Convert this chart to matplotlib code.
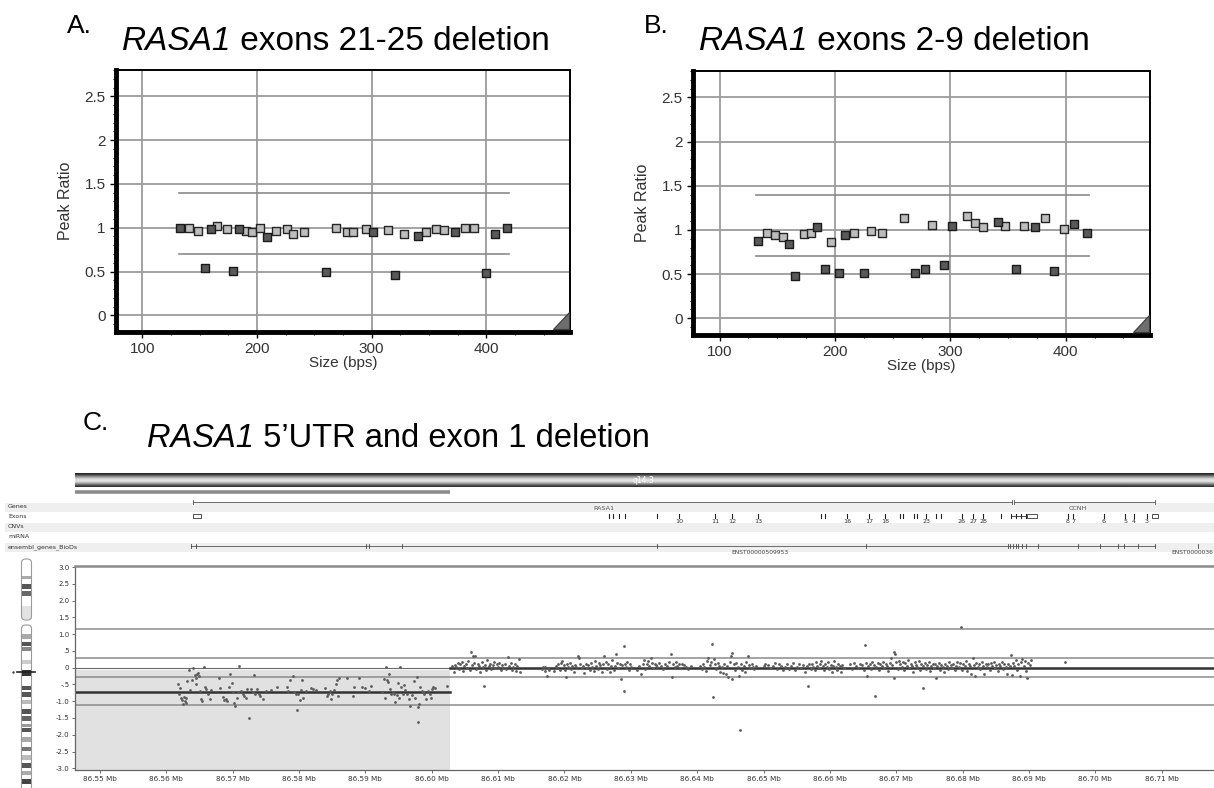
#!/usr/bin/env python3
"""RASA1 deletions: MLPA peak ratios (A, B) and array CGH log2 ratios (C)."""

import numpy as np
import matplotlib
matplotlib.use('Agg')
import matplotlib.pyplot as plt
from matplotlib.patches import Polygon, Rectangle, FancyBboxPatch
from matplotlib.ticker import MultipleLocator, FuncFormatter

W, H = 1214, 788
plt.rcParams['font.family'] = ['Liberation Sans', 'DejaVu Sans']

# ---------------------------------------------------------------------------
# Panel A: exons 21-25 deletion (probe size in bps, peak ratio)
a_light_size = [140.8, 148.3, 165.5, 174, 190.8, 196, 203, 216.4, 225.8, 231.6,
                240.9, 268.9, 278.2, 284, 295, 314, 328.2, 347.4, 356.2, 363.5,
                381.5, 389.7]
a_light_ratio = [1.0, 0.96, 1.02, 0.98, 0.96, 0.95, 1.0, 0.96, 0.98, 0.93,
                 0.95, 1.0, 0.95, 0.95, 0.98, 0.97, 0.93, 0.95, 0.98, 0.97,
                 1.0, 1.0]
a_dark_size = [133.2, 160, 184.4, 208.9, 300.9, 340.7, 372.8, 408, 418,
               154.7, 179.2, 259.8, 320.7, 399.4]
a_dark_ratio = [1.0, 0.98, 0.98, 0.89, 0.95, 0.91, 0.95, 0.93, 1.0,
                0.54, 0.51, 0.49, 0.46, 0.48]

# Panel B: exons 2-9 deletion
b_light_size = [141, 148, 155, 173.3, 179.4, 196.2, 216.6, 231.4, 241, 260.2,
                284.3, 314.2, 321, 328.2, 347.7, 364, 382.3, 398.6]
b_light_ratio = [0.97, 0.94, 0.92, 0.95, 0.96, 0.86, 0.96, 0.99, 0.96, 1.14,
                 1.06, 1.16, 1.08, 1.03, 1.05, 1.05, 1.13, 1.01]
b_dark_size = [133.4, 160.5, 165.1, 184.6, 191, 203.2, 209, 225.6, 269.2, 277.9,
               294.8, 301.5, 341.3, 356.7, 373.3, 390.1, 407.4, 418]
b_dark_ratio = [0.875, 0.84, 0.475, 1.03, 0.555, 0.51, 0.943, 0.51, 0.51, 0.555,
                0.604, 1.05, 1.094, 0.555, 1.03, 0.54, 1.064, 0.96]

peak_upper, peak_lower = 1.4, 0.7
probe_span = (132, 420)

# ---------------------------------------------------------------------------
# Panel C: array CGH log ratios, position in Mb
del_points = [
    (86.56175, -0.50), (86.56185, -0.77), (86.5620, -0.62), (86.56225, -0.89),
    (86.5624, -0.97), (86.5625, -1.09), (86.56265, -0.87), (86.5628, -0.99),
    (86.5629, -0.89), (86.5630, -1.04), (86.56315, -0.40), (86.56335, -0.08),
    (86.5636, -0.67), (86.5638, -0.38), (86.5640, 0.00), (86.56425, -0.22),
    (86.5644, -0.50), (86.5645, -0.32), (86.56465, -0.18), (86.5648, -0.15),
    (86.56485, -0.25), (86.5650, -0.69), (86.56515, -0.94), (86.56535, -0.99),
    (86.56565, 0.03), (86.56575, -0.59), (86.5660, -0.64), (86.56635, -0.79),
    (86.5666, -0.92), (86.5668, -0.67), (86.5680, -0.30), (86.5681, -0.62),
    (86.5685, -0.87), (86.56875, -0.97), (86.5690, -0.94), (86.56915, -0.99),
    (86.5694, -0.59), (86.5696, -0.18), (86.56985, -0.45), (86.5700, -0.73),
    (86.57025, -1.04), (86.5704, -1.14), (86.5706, -0.89), (86.5708, -0.74),
    (86.5710, 0.05), (86.57125, -0.69), (86.5715, -0.79), (86.57175, -0.84),
    (86.5720, -0.91), (86.5722, -0.64), (86.5725, -1.49), (86.57275, -0.64),
    (86.5730, -0.72), (86.57315, -0.22), (86.5734, -0.79), (86.57365, -0.64),
    (86.5739, -0.77), (86.5741, -0.84), (86.5745, -0.92), (86.5750, -0.69),
    (86.57575, -0.67), (86.57675, -0.59), (86.57825, -0.59), (86.57835, -0.69),
    (86.5786, -0.37), (86.5791, -0.25), (86.5793, -0.74), (86.5795, -0.79),
    (86.57975, -1.26), (86.5799, -0.77), (86.58015, -0.96), (86.5803, -0.67),
    (86.5805, -0.36), (86.58065, -0.89), (86.5810, -0.69), (86.58175, -0.61),
    (86.5821, -0.64), (86.5825, -0.66), (86.5839, -0.62), (86.58415, -0.84),
    (86.5844, -0.77), (86.5846, -0.69), (86.58475, -0.94), (86.5850, -0.79),
    (86.58525, -0.67), (86.5856, -0.48), (86.58575, -0.37), (86.5859, -0.84),
    (86.5860, -0.32), (86.58725, -0.32), (86.58815, -0.84), (86.58825, -0.57),
    (86.5890, -0.30), (86.5895, -0.59), (86.5900, -0.61), (86.5905, -0.69),
    (86.5909, -0.55), (86.5925, -0.74), (86.59275, -0.35), (86.5929, -0.89),
    (86.5931, 0.03), (86.5932, -0.38), (86.5934, -0.42), (86.5936, -0.20),
    (86.59375, -0.64), (86.5939, -0.77), (86.59415, -0.74), (86.5943, -0.79),
    (86.5945, -1.01), (86.5947, -0.82), (86.5949, -0.45), (86.5951, -0.89),
    (86.59525, 0.03), (86.5954, -0.59), (86.5956, -0.79), (86.59575, -0.52),
    (86.5960, -0.67), (86.59625, -0.79), (86.5965, -0.92), (86.59675, -1.14),
    (86.5970, -0.82), (86.59725, -0.40), (86.5975, -0.89), (86.59775, -0.28),
    (86.5979, -1.17), (86.5980, -1.63), (86.5981, -1.09), (86.5983, -0.59),
    (86.5985, -0.71), (86.5987, -0.74), (86.5989, -0.79), (86.59915, -0.94),
    (86.5994, -0.71), (86.59975, -0.79), (86.5999, -0.91), (86.6001, -0.64),
    (86.60025, -0.59), (86.6005, -0.61), (86.60225, -0.54),
]
norm_points = [
    (86.6031, 0.05), (86.6033, -0.12), (86.6035, 0.08), (86.6037, 0.02),
    (86.6039, 0.15), (86.6041, -0.05), (86.6043, 0.10), (86.6045, 0.18),
    (86.6047, -0.10), (86.6049, 0.04), (86.6051, 0.12), (86.6053, 0.00),
    (86.6055, 0.20), (86.6057, -0.06), (86.6059, 0.48), (86.6060, 0.08),
    (86.6062, 0.35), (86.6063, 0.14), (86.6065, 0.35), (86.6067, -0.03),
    (86.6069, 0.10), (86.6071, 0.05), (86.6073, -0.12), (86.6075, 0.16),
    (86.6077, 0.02), (86.6078, -0.55), (86.6080, 0.09), (86.6082, -0.08),
    (86.6084, 0.22), (86.6086, 0.04), (86.6088, 0.12), (86.6090, -0.04),
    (86.6092, 0.07), (86.6094, 0.18), (86.6096, -0.02), (86.6098, 0.10),
    (86.6100, 0.03), (86.6102, 0.14), (86.6104, -0.06), (86.6106, 0.08),
    (86.6108, 0.00), (86.6110, 0.12), (86.6112, -0.03), (86.6115, 0.33),
    (86.6117, 0.06), (86.6119, 0.15), (86.6121, -0.07), (86.6123, 0.02),
    (86.6125, 0.10), (86.6127, -0.10), (86.6129, 0.05), (86.6131, 0.25),
    (86.6133, -0.12), (86.6166, -0.05), (86.6168, 0.02), (86.6170, -0.10),
    (86.6171, 0.03), (86.6173, -0.24), (86.6175, 0.00), (86.6177, -0.08),
    (86.6185, -0.10), (86.6187, 0.05), (86.6189, -0.02), (86.6191, 0.12),
    (86.6193, -0.06), (86.6195, 0.15), (86.6197, 0.20), (86.6199, 0.08),
    (86.6201, -0.08), (86.6202, -0.27), (86.6204, 0.10), (86.6206, 0.02),
    (86.6208, 0.14), (86.6210, -0.04), (86.6212, 0.06), (86.6214, -0.12),
    (86.6216, 0.09), (86.6218, 0.03), (86.6220, 0.35), (86.6222, 0.30),
    (86.6224, 0.12), (86.6226, -0.02), (86.6228, 0.05), (86.6230, -0.16),
    (86.6232, 0.10), (86.6234, 0.00), (86.6236, 0.08), (86.6238, -0.06),
    (86.6240, 0.13), (86.6242, 0.02), (86.6244, -0.10), (86.6246, 0.20),
    (86.6248, 0.05), (86.6250, -0.03), (86.6252, 0.14), (86.6254, 0.07),
    (86.6256, -0.12), (86.6258, 0.10), (86.6260, 0.36), (86.6262, 0.18),
    (86.6264, -0.05), (86.6266, 0.12), (86.6268, -0.14), (86.6270, 0.04),
    (86.6272, 0.22), (86.6274, -0.08), (86.6276, 0.06), (86.6277, 0.42),
    (86.6279, 0.15), (86.6281, -0.02), (86.6283, 0.10), (86.6285, -0.34),
    (86.6287, 0.08), (86.6289, 0.66), (86.6290, -0.69), (86.6291, 0.12),
    (86.6293, 0.02), (86.6295, 0.16), (86.6297, -0.06), (86.6299, 0.10),
    (86.6301, 0.03), (86.6310, -0.08), (86.6313, 0.05), (86.6316, -0.18),
    (86.6318, 0.10), (86.6320, 0.22), (86.6322, -0.04), (86.6324, 0.12),
    (86.6326, 0.20), (86.6328, 0.06), (86.6330, 0.30), (86.6332, 0.15),
    (86.6334, -0.02), (86.6336, 0.12), (86.6338, 0.08), (86.6340, 0.02),
    (86.6343, 0.14), (86.6346, 0.06), (86.6349, -0.05), (86.6352, 0.10),
    (86.6355, 0.04), (86.6358, 0.18), (86.6361, 0.41), (86.6362, -0.27),
    (86.6364, 0.10), (86.6366, 0.02), (86.6368, 0.16), (86.6370, 0.06),
    (86.6372, 0.12), (86.6374, -0.02), (86.6377, 0.10), (86.6380, 0.08),
    (86.6383, 0.02), (86.6386, -0.04), (86.6390, 0.05), (86.6405, 0.06),
    (86.6407, -0.04), (86.6409, 0.12), (86.6411, 0.02), (86.6413, -0.10),
    (86.6415, 0.20), (86.6417, 0.30), (86.6419, 0.08), (86.6421, 0.16),
    (86.6423, 0.70), (86.6424, -0.86), (86.6425, 0.25), (86.6427, 0.10),
    (86.6429, -0.04), (86.6431, 0.14), (86.6433, 0.05), (86.6435, -0.12),
    (86.6437, 0.02), (86.6439, -0.16), (86.6441, 0.10), (86.6443, -0.20),
    (86.6445, 0.06), (86.6447, -0.28), (86.6449, 0.18), (86.6451, 0.36),
    (86.6452, 0.43), (86.6453, -0.34), (86.6455, 0.10), (86.6457, -0.08),
    (86.6459, 0.14), (86.6461, 0.02), (86.6463, -0.24), (86.6464, -1.85),
    (86.6466, 0.12), (86.6468, -0.06), (86.6470, 0.04), (86.6472, -0.14),
    (86.6474, 0.16), (86.6476, 0.35), (86.6478, 0.08), (86.6480, -0.02),
    (86.6482, 0.12), (86.6484, 0.02), (86.6486, -0.05), (86.6488, 0.04),
    (86.6500, 0.05), (86.6503, 0.12), (86.6507, 0.08), (86.6510, -0.02),
    (86.6514, 0.06), (86.6518, 0.15), (86.6521, -0.04), (86.6524, 0.10),
    (86.6527, 0.04), (86.6530, -0.08), (86.6533, 0.02), (86.6536, 0.12),
    (86.6539, -0.03), (86.6542, 0.06), (86.6545, 0.14), (86.6548, -0.06),
    (86.6551, 0.02), (86.6554, 0.10), (86.6557, -0.02), (86.6560, 0.08),
    (86.6563, -0.12), (86.6565, 0.04), (86.6567, -0.55), (86.6569, 0.10),
    (86.6571, -0.04), (86.6573, 0.12), (86.6575, 0.02), (86.6577, -0.08),
    (86.6579, 0.16), (86.6581, 0.06), (86.6583, -0.02), (86.6585, 0.10),
    (86.6587, 0.20), (86.6589, 0.04), (86.6591, -0.06), (86.6593, 0.12),
    (86.6595, 0.02), (86.6597, 0.16), (86.6599, -0.04), (86.6601, 0.08),
    (86.6603, -0.12), (86.6605, 0.06), (86.6607, 0.20), (86.6609, 0.02),
    (86.6611, -0.08), (86.6613, 0.12), (86.6615, 0.04), (86.6617, -0.14),
    (86.6619, 0.08), (86.6621, 0.00), (86.6630, 0.10), (86.6633, -0.04),
    (86.6636, 0.14), (86.6639, 0.06), (86.6642, -0.02), (86.6645, 0.12),
    (86.6648, 0.08), (86.6651, -0.06), (86.6653, 0.68), (86.6655, 0.14),
    (86.6656, -0.25), (86.6658, 0.04), (86.6660, 0.12), (86.6662, -0.03),
    (86.6664, 0.16), (86.6666, 0.08), (86.6668, -0.85), (86.6670, 0.02),
    (86.6672, 0.14), (86.6674, -0.06), (86.6676, 0.10), (86.6678, 0.04),
    (86.6680, 0.18), (86.6682, -0.02), (86.6684, 0.12), (86.6686, 0.06),
    (86.6688, -0.10), (86.6690, 0.14), (86.6692, 0.30), (86.6694, 0.08),
    (86.6696, 0.48), (86.6697, -0.30), (86.6698, 0.42), (86.6700, 0.16),
    (86.6702, -0.04), (86.6704, 0.20), (86.6706, 0.10), (86.6708, 0.02),
    (86.6710, 0.18), (86.6712, -0.08), (86.6714, 0.14), (86.6716, 0.06),
    (86.6718, 0.22), (86.6720, -0.02), (86.6722, 0.12), (86.6724, 0.04),
    (86.6726, -0.14), (86.6728, 0.16), (86.6730, 0.08), (86.6732, 0.02),
    (86.6734, 0.20), (86.6736, -0.06), (86.6738, 0.10), (86.6740, 0.04),
    (86.6741, -0.62), (86.6743, 0.14), (86.6745, -0.04), (86.6747, 0.08),
    (86.6749, 0.16), (86.6751, -0.10), (86.6753, 0.06), (86.6755, 0.12),
    (86.6757, -0.02), (86.6759, 0.10), (86.6760, -0.32), (86.6762, 0.04),
    (86.6764, 0.14), (86.6766, -0.06), (86.6768, 0.08), (86.6770, 0.02),
    (86.6772, -0.12), (86.6774, 0.10), (86.6776, 0.04), (86.6778, -0.04),
    (86.6780, 0.16), (86.6782, 0.08), (86.6784, 0.00), (86.6786, 0.12),
    (86.6788, -0.08), (86.6790, 0.06), (86.6792, 0.18), (86.6794, 0.02),
    (86.6796, 0.14), (86.6797, 1.20), (86.6799, -0.06), (86.6801, 0.10),
    (86.6803, 0.04), (86.6805, 0.20), (86.6807, -0.10), (86.6809, 0.12),
    (86.6811, 0.06), (86.6813, -0.20), (86.6815, 0.28), (86.6817, 0.08),
    (86.6819, -0.25), (86.6821, 0.14), (86.6823, 0.02), (86.6825, 0.10),
    (86.6827, -0.04), (86.6829, 0.16), (86.6831, 0.06), (86.6833, -0.18),
    (86.6835, 0.12), (86.6837, 0.02), (86.6839, 0.10), (86.6841, -0.06),
    (86.6843, 0.14), (86.6845, 0.04), (86.6847, 0.18), (86.6849, -0.02),
    (86.6851, 0.08), (86.6853, -0.10), (86.6855, 0.12), (86.6857, 0.04),
    (86.6859, 0.16), (86.6861, -0.04), (86.6863, 0.10), (86.6865, 0.02),
    (86.6867, -0.18), (86.6869, 0.12), (86.6871, 0.06), (86.6873, 0.38),
    (86.6874, -0.22), (86.6876, 0.14), (86.6878, 0.04), (86.6880, 0.24),
    (86.6882, -0.06), (86.6884, 0.10), (86.6886, -0.24), (86.6888, 0.16),
    (86.6890, 0.26), (86.6892, 0.06), (86.6894, 0.20), (86.6896, -0.10),
    (86.6897, -0.30), (86.6899, 0.14), (86.6901, 0.08), (86.6903, 0.22),
    (86.6954, 0.18),
]
breakpoint_mb = 86.6028
del_mean = -0.73
c_thresholds = [1.15, 0.30, -0.28, -1.10]
c_xticks = [86.55, 86.56, 86.57, 86.58, 86.59, 86.60, 86.61, 86.62, 86.63,
            86.64, 86.65, 86.66, 86.67, 86.68, 86.69, 86.70, 86.71]
c_yticks = [3.0, 2.5, 2.0, 1.5, 1.0, 0.5, 0, -0.5, -1.0, -1.5, -2.0, -2.5, -3.0]
c_ytick_labels = ['3.0', '2.5', '2.0', '1.5', '1.0', '.5', '0', '-.5', '-1.0',
                  '-1.5', '-2.0', '-2.5', '-3.0']

# gene annotation tracks (Mb)
rasa1_span = (86.5640, 86.6875)
ccnh_span = (86.6878, 86.7090)
exon_ticks = [86.6267, 86.6273, 86.6282, 86.6291, 86.6340, 86.6373, 86.6427,
              86.6453, 86.6492, 86.6587, 86.6593, 86.6626, 86.6659, 86.6683,
              86.6706, 86.6710, 86.6727, 86.6731, 86.6745, 86.6760, 86.6768,
              86.6799, 86.6816, 86.6831, 86.6858, 86.6873, 86.6881, 86.6888,
              86.6896, 86.6959, 86.6967, 86.7013, 86.7045, 86.7058, 86.7078]
exon_label_mb = [86.6373, 86.6427, 86.6453, 86.6492, 86.6626, 86.6659, 86.6683,
                 86.6745, 86.6799, 86.6816, 86.6831, 86.6959, 86.6967, 86.7013,
                 86.7045, 86.7058, 86.7078]
exon_labels = ['10', '11', '12', '13', '16', '17', '18', '23', '26', '27', '28',
               '8', '7', '6', '5', '4', '3']
utr_boxes = [(86.5640, 86.5652), (86.6897, 86.6912), (86.7086, 86.7095)]
ensembl_span = (86.5637, 86.7090)
ensembl_ticks = [86.5637, 86.5645, 86.5901, 86.5905, 86.5955, 86.6340, 86.6655,
                 86.6869, 86.6872, 86.6876, 86.6880, 86.6884, 86.6890, 86.6896,
                 86.6914, 86.6974, 86.7007, 86.7034, 86.7043, 86.7064, 86.7090,
                 86.7155]
track_names = ['Genes', 'Exons', 'CNVs', 'miRNA', 'ensembl_genes_BioDs']

# pixel <-> Mb mapping of the genome browser panel
MB0_PX, PX_PER_MB = 100, 6635.0


def mb_at(x):
    return 86.55 + (x - MB0_PX) / PX_PER_MB


def px_axes(fig, l, t, r, b):
    return fig.add_axes([l / W, 1 - b / H, (r - l) / W, (b - t) / H])


fig = plt.figure(figsize=(W / 100, H / 100), dpi=100)
renderer = fig.canvas.get_renderer()


def title_row(letter, lx, ly, tx, ty, rest, size=24):
    fig.text(lx / W, 1 - ly / H, letter, fontsize=19, va='baseline')
    t = fig.text(tx / W, 1 - ty / H, 'RASA1', fontsize=size, style='italic',
                 va='baseline')
    bb = t.get_window_extent(renderer=renderer)
    fig.text(bb.x1 / W, 1 - ty / H, rest, fontsize=size, va='baseline')


def peak_panel(ax, light_x, light_y, dark_x, dark_y):
    ax.set_xlim(77, 473)
    ax.set_ylim(-0.19, 2.8)
    ax.xaxis.set_major_locator(MultipleLocator(100))
    ax.xaxis.set_minor_locator(MultipleLocator(25))
    ax.yaxis.set_major_locator(MultipleLocator(0.5))
    ax.yaxis.set_minor_locator(MultipleLocator(0.1))
    ax.yaxis.set_major_formatter(FuncFormatter(lambda v, p: f'{v:g}'))
    ax.grid(True, which='major', color='#9c9c9c', lw=1.3)
    ax.set_axisbelow(True)
    for lvl in (peak_upper, peak_lower):
        ax.plot(probe_span, [lvl, lvl], color='#8a8a8a', lw=1.2, zorder=2)
    ax.scatter(light_x, light_y, marker='s', s=26, facecolor='#bdbdbd',
               edgecolor='#262626', lw=1.0, zorder=3)
    ax.scatter(dark_x, dark_y, marker='s', s=26, facecolor='#595959',
               edgecolor='#1a1a1a', lw=1.0, zorder=3)
    for side in ('left', 'bottom'):
        ax.spines[side].set_linewidth(3.5)
    for side in ('top', 'right'):
        ax.spines[side].set_linewidth(1.4)
    ax.tick_params(which='major', direction='out', length=4, width=1,
                   labelsize=11, labelcolor='#333333')
    ax.tick_params(which='minor', direction='out', length=2.5, width=0.8)
    ax.set_ylabel('Peak Ratio', fontsize=11.5, color='#333333', labelpad=8)
    ax.set_xlabel('Size (bps)', fontsize=11, color='#333333', labelpad=0)
    tri = Polygon([(0.962, 0.01), (0.997, 0.01), (0.997, 0.075)], closed=True,
                  transform=ax.transAxes, facecolor='#6e6e6e',
                  edgecolor='#3a3a3a', lw=0.8, zorder=5)
    ax.add_patch(tri)


# ---------------------------------------------------------------------------
# A and B
title_row('A.', 67, 33, 122, 50, ' exons 21-25 deletion')
axa = px_axes(fig, 116, 70, 570, 332)
peak_panel(axa, a_light_size, a_light_ratio, a_dark_size, a_dark_ratio)

title_row('B.', 644, 33, 699, 50, ' exons 2-9 deletion')
axb = px_axes(fig, 693, 71, 1150, 335)
peak_panel(axb, b_light_size, b_light_ratio, b_dark_size, b_dark_ratio)

# ---------------------------------------------------------------------------
# C: genome browser view
title_row('C.', 83, 430, 147, 447, ' 5\u2019UTR and exon 1 deletion', size=23.5)

trk = px_axes(fig, 0, 466, W, 558)
trk.set_xlim(mb_at(0), mb_at(W))
trk.set_ylim(558, 466)
trk.axis('off')

# cytoband q14.3 bar with tube shading
shade = np.array([0.15, 0.3, 0.5, 0.68, 0.82, 0.9, 0.86, 0.74, 0.55, 0.35, 0.2])
trk.imshow(shade[:, None], cmap='gray', vmin=0, vmax=1, aspect='auto',
           extent=[mb_at(75), mb_at(W), 487, 473], interpolation='bilinear')
trk.text(mb_at(633), 480.5, 'q14.3', color='white', fontsize=5.5,
         va='center', family='DejaVu Sans')
trk.plot([mb_at(75), breakpoint_mb], [491.5, 491.5], color='#8c8c8c', lw=2.6,
         solid_capstyle='butt')

row_y = [507, 517, 527, 537, 547]
for i, (name, y) in enumerate(zip(track_names, row_y)):
    if i % 2 == 0:
        trk.add_patch(Rectangle((mb_at(5), y - 4.5), mb_at(W) - mb_at(5), 9,
                                facecolor='#efefef', edgecolor='none', zorder=0))
    trk.text(mb_at(8), y, name, fontsize=4.5, color='#333333', va='center',
             family='DejaVu Sans')

# genes
gy = 502
for span in (rasa1_span, ccnh_span):
    trk.plot(span, [gy, gy], color='#555555', lw=0.6)
    for x in span:
        trk.plot([x, x], [gy - 2, gy + 2], color='#555555', lw=0.6)
trk.text(mb_at(593), 508, 'RASA1', fontsize=4.6, color='#555555',
         va='center', family='DejaVu Sans')
trk.text(mb_at(1069), 508, 'CCNH', fontsize=4.6, color='#555555',
         va='center', family='DejaVu Sans')

# exons
ey = 516
for x in exon_ticks:
    trk.plot([x, x], [ey - 2.2, ey + 2.2], color='#222222', lw=0.8)
for x, lab in zip(exon_label_mb, exon_labels):
    trk.text(x, 521.5, lab, fontsize=4.6, ha='center', va='center',
             color='#333333', family='DejaVu Sans')
for x0, x1 in utr_boxes:
    trk.add_patch(Rectangle((x0, ey - 1.8), x1 - x0, 3.6, facecolor='white',
                            edgecolor='#333333', lw=0.6))
trk.plot([exon_ticks[25], utr_boxes[1][0]], [ey, ey], color='#333333', lw=0.6)

# ensembl transcripts
ny = 546
trk.plot(ensembl_span, [ny, ny], color='#555555', lw=0.6)
for x in ensembl_ticks:
    trk.plot([x, x], [ny - 2, ny + 2], color='#444444', lw=0.6)
trk.text(mb_at(760), 552, 'ENST00000509953', fontsize=4.3, ha='center',
         va='center', color='#444444', family='DejaVu Sans')
trk.text(mb_at(1213), 552, 'ENST0000036', fontsize=4.3, ha='right',
         va='center', color='#444444', family='DejaVu Sans')

# chromosome 5 ideogram
ide = px_axes(fig, 0, 552, 60, H)
ide.set_xlim(0, 60)
ide.set_ylim(H, 552)
ide.axis('off')
bands = [(576, 579, '#aaaaaa'), (584, 589, '#555555'), (591, 596, '#666666'),
         (606, 619, '#e2e2e2'), (634, 639, '#aaaaaa'), (642, 646, '#555555'),
         (647, 651, '#888888'), (660, 664, '#cccccc'), (670, 676, '#333333'),
         (686, 690, '#555555'), (692, 697, '#555555'), (700, 704, '#bbbbbb'),
         (709, 714, '#555555'), (716, 721, '#666666'), (724, 727, '#999999'),
         (728, 732, '#555555'), (737, 742, '#aaaaaa'), (747, 751, '#777777'),
         (755, 760, '#bbbbbb'), (763, 768, '#555555'), (771, 775, '#aaaaaa'),
         (779, 784, '#444444')]
for y0, y1, c in bands:
    ide.add_patch(Rectangle((21.5, y0), 10, y1 - y0, facecolor=c,
                            edgecolor='none'))
for y0, y1 in ((559, 620), (625, 800)):
    ide.add_patch(FancyBboxPatch((21.5, y0), 10, y1 - y0,
                                 boxstyle='round,pad=0,rounding_size=4',
                                 facecolor='none', edgecolor='#9a9a9a', lw=0.8))
ide.plot([17, 35], [672, 672], color='#222222', lw=1.2)
ide.plot([13], [672], marker='.', ms=1.5, color='#444444')

# log ratio scatter
axc = px_axes(fig, 75, 566, W, 770)
axc.set_xlim(mb_at(75), mb_at(W))
axc.set_ylim(-3.05, 3.03)
axc.fill_between([mb_at(75), breakpoint_mb], -3.05, -0.08, color='#e1e1e1',
                 lw=0, zorder=0)
for lvl in c_thresholds:
    axc.axhline(lvl, color='#8c8c8c', lw=1.1, zorder=1)
axc.axhline(0, color='#6a6a6a', lw=0.8, zorder=1)
axc.plot([mb_at(75), breakpoint_mb], [del_mean, del_mean], color='#333333',
         lw=1.8, zorder=2)
axc.plot([breakpoint_mb, mb_at(W)], [0, 0], color='#333333', lw=1.8, zorder=2)
del_mb, del_lr = zip(*del_points)
norm_mb, norm_lr = zip(*norm_points)
axc.scatter(del_mb, del_lr, s=4, color='#5a5a5a', lw=0, zorder=3)
axc.scatter(norm_mb, norm_lr, s=4, color='#5a5a5a', lw=0, zorder=3)
axc.set_xticks(c_xticks)
axc.set_xticklabels([f'{v:.2f} Mb' for v in c_xticks], fontsize=5.2,
                    color='#333333', family='DejaVu Sans')
axc.set_yticks(c_yticks)
axc.set_yticklabels(c_ytick_labels, fontsize=5.0, color='#333333',
                    family='DejaVu Sans')
axc.tick_params(length=2.5, width=0.6, color='#555555', pad=1.5)
for side in ('left', 'bottom'):
    axc.spines[side].set_color('#666666')
    axc.spines[side].set_linewidth(0.9)
axc.spines['top'].set_color('#8a8a8a')
axc.spines['top'].set_linewidth(1.8)
axc.spines['right'].set_visible(False)

fig.savefig('out.png', dpi=100)
